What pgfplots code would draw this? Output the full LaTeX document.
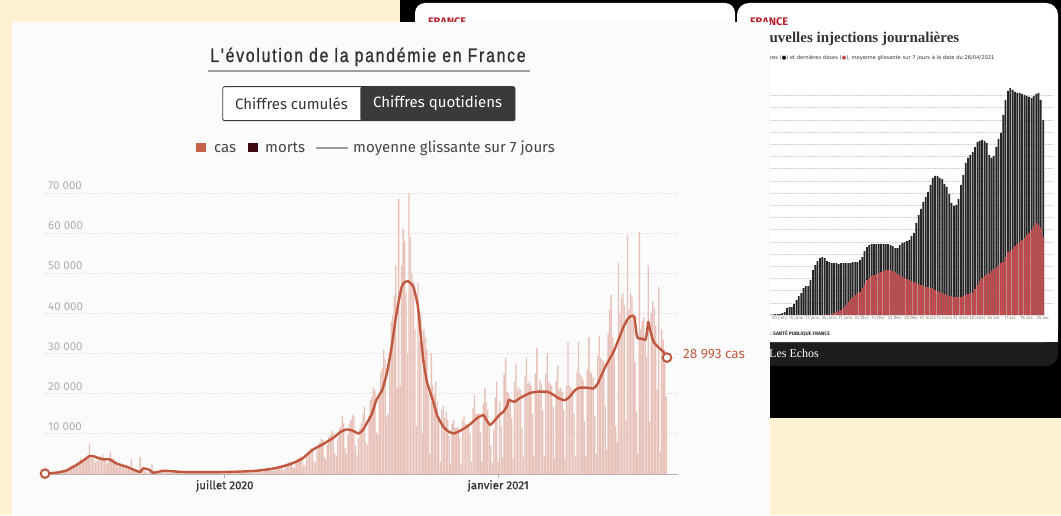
\documentclass[border=0pt]{standalone}
\usepackage{pgfplots}
\pgfplotsset{compat=1.18}
\usepackage{pgfplotstable}
\usepackage{fontspec}
\setmainfont{Fira Sans}
\newfontfamily\titlefont[FakeStretch=0.8,LetterSpace=9.5,FakeBold=1.2]{Liberation Sans}
\newfontfamily\medfont[FakeBold=0.8]{Fira Sans}
\newfontfamily\echoserif{Liberation Serif}
\newfontfamily\dejavu{DejaVu Sans}
\definecolor{cream}{HTML}{FFF2D2}
\definecolor{panel}{HTML}{FBFBFB}
\definecolor{barc}{HTML}{E8C2B9}
\definecolor{linec}{HTML}{C0583F}
\definecolor{gridc}{HTML}{D9D9D9}
\definecolor{gridc2}{HTML}{CFCFCF}
\definecolor{tickgrey}{HTML}{ADADAD}
\definecolor{axisgrey}{HTML}{B0B0B0}
\definecolor{darktext}{HTML}{333333}
\definecolor{legtext}{HTML}{444444}
\definecolor{footer}{HTML}{1D1D1D}
\definecolor{ered}{HTML}{B8222A}
\definecolor{vred}{HTML}{C4474A}
\definecolor{casc}{HTML}{C8614A}
\definecolor{mortc}{HTML}{3D0A14}
\definecolor{togdark}{HTML}{3A3A3A}

% daily cases, one row per week (Mon..Sun), first Monday = 2 March 2020 (day -121)
\pgfplotstableread{
a b c d e f g
100 130 180 210 280 380 450
400 550 700 850 950 1100 1000
1000 1300 1500 1800 2100 2000 2200
2600 2900 3300 3800 3400 3000 3500
4000 4700 7500 4500 4300 3600 2800
3200 4000 4500 4200 4800 3800 3100
2500 3800 5500 3600 3900 2800 2400
1800 2400 2700 2300 2500 2000 1700
1200 1500 3700 1600 1300 1100 900
600 4200 900 800 700 500 300
500 900 2500 900 700 500 300
400 800 900 800 700 500 300
300 700 800 700 600 500 300
300 600 700 600 550 400 250
250 550 600 550 500 350 250
250 550 600 550 500 350 250
250 500 650 550 500 400 250
300 600 700 600 550 450 300
300 650 750 700 600 500 350
350 800 900 800 700 600 400
450 950 1100 1000 900 700 500
600 1300 1500 1400 1300 900 700
720 1440 1840 1920 2160 2080 1040
1000 2070 2650 2760 3100 2990 1500
1500 2970 3800 3960 4450 4290 2150
2160 4320 5520 5760 6480 6240 3120
2900 5850 7500 7800 8800 8450 4200
3600 7200 9200 9600 10800 10400 5200
4400 8800 11300 11800 14500 12700 6400
5000 9900 12600 13500 14800 14300 7200
4700 9000 11500 12600 15000 16700 8000
7200 14400 18400 19200 21600 20800 10400
9900 19800 25300 26400 31000 28600 14300
14900 29700 38000 39600 44500 52000 21500
68500 22000 52000 61000 58000 45000 30000
70000 59000 50000 48000 36000 12000 47600
33000 40000 10000 36000 34000 31000 20000
5000 30100 22000 20000 23000 18000 14000
3000 16000 17000 14000 15500 13500 9500
2500 12500 13500 11500 11500 11500 9000
2500 13500 14500 12500 12500 12300 10000
3000 16500 19700 15000 15000 15000 10500
3000 17500 21400 18000 16000 12000 7000
2700 11000 19000 23000 3000 18000 12000
4000 25000 28900 20500 20000 19000 14000
4000 23000 27500 21000 21500 21000 11500
4200 24500 29000 22500 23000 22000 15000
4300 25000 31500 21000 23500 22500 15700
4300 25000 30000 23000 22500 22000 16700
4000 23000 27000 21000 21500 20500 16000
4000 22000 32900 22000 21500 21000 15000
4500 25500 33000 25000 24500 23500 13100
4500 26000 34100 25500 25000 24000 14500
5000 29500 34500 29000 28500 28000 17000
6000 35000 41000 44600 34000 30000 12000
8000 52600 40000 44000 45000 42000 13400
59500 41000 45000 44000 40000 28000 15500
5000 60300 36000 38000 39000 34000 29200
52000 13000 40000 43000 41500 37000 21000
46600 5500 36000 33500 31000 19300 nan
}\cases

% background chart (vaccinations): day j from 3 Jan 2021, heights in pt
\pgfplotstableread{
j b r
-4 0.5 0
-3 0.5 0
-2 1 0
-1 1 0
0 1 0
1 2 0
2 3 0
3 7 0
4 8 0
5 8 0
6 11 0
7 15 0
8 19 0
9 22 0
10 27 0
11 29 0
12 29 0
13 35 0
14 45 0
15 50 0
16 54 0
17 57 0
18 58 0
19 57 0.5
20 54 0.5
21 53 0.5
22 52 1
23 52 2
24 52 3
25 51 4
26 52 5
27 52 7
28 52 10
29 52 13
30 52 16
31 53 18
32 53 20
33 53 22
34 55 23
35 58 27
36 64 31
37 68 35
38 70 37
39 71 39
40 71 40
41 71 41
42 71 42
43 71 43
44 71 44
45 71 45
46 71 45
47 70 45
48 69 44
49 67 43
50 67 41
51 70 40
52 72 38
53 73 37
54 74 36
55 75 35
56 79 34
57 82 33
58 92 32
59 100 31
60 106 30
61 113 29
62 118 28
63 123 28
64 130 27
65 137 27
66 139 25
67 139 24
68 137 23
69 136 22
70 131 21
71 128 20
72 121 19
73 112 19
74 109 18
75 110 18
76 116 18
77 130 18
78 140 19
79 152 20
80 157 21
81 160 22
82 163 22
83 168 26
84 173 30
85 174 34
86 175 37
87 174 39
88 172 41
89 160 42
90 157 44
91 159 46
92 168 48
93 176 50
94 182 52
95 200 53
96 215 58
97 224 63
98 227 64
99 225 66
100 223 69
101 222 71
102 222 73
103 221 75
104 220 77
105 219 80
106 218 82
107 217 85
108 219 89
109 221 92
110 222 90
111 215 87
112 195 78
}\vacc

\pgfplotsset{cbar/.style={ybar, bar width=0.9, bar shift=0pt, fill=barc, draw=none}}

\begin{document}
\begin{tikzpicture}
\useasboundingbox (0,0) rectangle (1061pt,515pt);
\begin{scope}[x=1pt,y=1pt]
\fill[cream] (0,0) rectangle (1061,515);
\fill[black] (400,97) rectangle (1061,515);
\fill[white, rounded corners=10pt] (415,215) rectangle (735,512);
\fill[footer, rounded corners=12pt] (737,149) rectangle (1058,512);
\fill[white, rounded corners=12pt] (737,173) rectangle (1058,512);
\fill[white] (737,173) rectangle (1058,190);
\node[anchor=base west, inner sep=0pt, text=ered, font=\bfseries\fontsize{11}{11}\selectfont] at (428,489) {FRANCE};
\node[anchor=base west, inner sep=0pt, text=ered, font=\bfseries\fontsize{11}{11}\selectfont] at (750,489) {FRANCE};
\node[anchor=base west, inner sep=0pt, text=darktext, font=\echoserif\bfseries\fontsize{15}{15}\selectfont] at (751,472) {Nouvelles injections journalières};
\node[anchor=base west, inner sep=0pt, text=darktext, font=\dejavu\fontsize{5.2}{5.2}\selectfont] at (752,455) {Premières ({\color{black}●}) et dernières doses ({\color{vred}●}), moyenne glissante sur 7 jours à la date du 26/04/2021};
\node[anchor=base east, inner sep=0pt, text=darktext, font=\bfseries\fontsize{5}{5}\selectfont] at (772,180) {SOURCE :};
\node[anchor=base west, inner sep=0pt, text=darktext, font=\bfseries\fontsize{5}{5}\selectfont] at (773,180) {SANTÉ PUBLIQUE FRANCE};
\node[anchor=base west, inner sep=0pt, text=white, font=\echoserif\fontsize{12}{12}\selectfont] at (769,158) {Les Echos};
\end{scope}

\begin{axis}[at={(770pt,200pt)}, anchor=south west, scale only axis,
  width=283pt, height=230pt, xmin=770, xmax=1053, ymin=0, ymax=230,
  axis line style={draw=none}, tick style={draw=none},
  ytick={12.2,24.4,...,219.6}, yticklabels={},
  ymajorgrids, grid style={gridc2, dash pattern=on 0.6pt off 0.9pt, line width=0.5pt},
  xtick={780,796.45,812.9,829.35,845.8,862.25,878.7,895.15,911.6,928.05,944.5,960.95,977.4,993.85,1010.3,1026.75,1043.2},
  xticklabels={03 janv.,10 janv.,17 janv.,24 janv.,31 janv.,07 févr.,14 févr.,21 févr.,28 févr.,07 mars,14 mars,21 mars,28 mars,04 avr.,11 avr.,18 avr.,25 avr.},
  xticklabel style={font=\fontsize{4.5}{4.5}\selectfont, text=gray, inner sep=1pt},
  clip=false]
\addplot[ybar, bar width=1.75, bar shift=0pt, fill=black!85, draw=none] table[x expr=780+2.35*\thisrow{j}, y=b]{\vacc};
\addplot[ybar, bar width=1.75, bar shift=0pt, fill=vred, draw=none] table[x expr=780+2.35*\thisrow{j}, y=r]{\vacc};
\end{axis}

\begin{scope}[x=1pt,y=1pt]
\fill[panel] (12,0) rectangle (770,493);
\node[anchor=base, inner sep=0pt, text=darktext, font=\titlefont\fontsize{19.5}{19.5}\selectfont] at (368,453) {L'évolution de la pandémie en France};
\draw[color=gray!75, line width=1.8pt] (208,444) -- (530,444);
\draw[fill=white, draw=togdark, line width=0.9pt, rounded corners=2pt] (222.7,394.3) rectangle (515,428.3);
\fill[togdark, rounded corners=2pt] (360.3,394.3) rectangle (515,428.3);
\node[inner sep=0pt, text=darktext, font=\fontsize{15}{15}\selectfont] at (291.5,411.3) {Chiffres cumulés};
\node[inner sep=0pt, text=white, font=\fontsize{15}{15}\selectfont] at (437.6,411.3) {Chiffres quotidiens};
\fill[casc] (196,362.5) rectangle (205.5,372);
\node[anchor=base west, inner sep=0pt, text=legtext, font=\fontsize{15}{15}\selectfont] at (214,362.3) {cas};
\fill[mortc] (248,362.5) rectangle (257.5,372);
\node[anchor=base west, inner sep=0pt, text=legtext, font=\fontsize{15}{15}\selectfont] at (265,362.3) {morts};
\draw[color=gray!80, line width=1.2pt] (316,367) -- (348,367);
\node[anchor=base west, inner sep=0pt, text=legtext, font=\fontsize{15}{15}\selectfont] at (353,362.3) {moyenne glissante sur 7 jours};
\end{scope}

\begin{axis}[at={(45pt,41pt)}, anchor=south west, scale only axis,
  width=633pt, height=281pt, xmin=-121, xmax=305, ymin=0, ymax=70000, clip=false,
  scaled y ticks=false,
  axis x line*=bottom, axis y line*=left,
  y axis line style={draw=none}, x axis line style={draw=axisgrey, line width=0.9pt},
  xtick={0,184}, xticklabels={juillet 2020, janvier 2021},
  x tick style={draw=axisgrey, line width=0.8pt}, y tick style={draw=none},
  tick align=outside, major tick length=4pt,
  xticklabel style={font=\medfont\fontsize{11.5}{12}\selectfont, text=darktext, inner sep=2pt},
  ytick={10000,20000,30000,40000,50000,60000,70000},
  yticklabels={10 000,20 000,30 000,40 000,50 000,60 000,70 000},
  yticklabel style={anchor=south west, font=\fontsize{11.5}{12}\selectfont, text=tickgrey, inner sep=0pt, xshift=7pt, yshift=3pt},
  ymajorgrids, grid style={gridc, line width=0.8pt, dash pattern=on 0.8pt off 1.6pt},
]
\addplot[cbar] table[x expr=7*\coordindex-121, y=a]{\cases};
\addplot[cbar] table[x expr=7*\coordindex-120, y=b]{\cases};
\addplot[cbar] table[x expr=7*\coordindex-119, y=c]{\cases};
\addplot[cbar] table[x expr=7*\coordindex-118, y=d]{\cases};
\addplot[cbar] table[x expr=7*\coordindex-117, y=e]{\cases};
\addplot[cbar] table[x expr=7*\coordindex-116, y=f]{\cases};
\addplot[cbar] table[x expr=7*\coordindex-115, y=g]{\cases};
\addplot[linec, line width=2.4pt, smooth, tension=0.3, line join=round] coordinates {
(-121,100) (-116,250) (-112,400) (-107,800) (-102,1800) (-98,2650) (-94,3700) (-91,4500) (-88,4400) (-86.5,4150) (-82,3650) (-77.5,3650) (-73,2650) (-69,2100) (-66,1820) (-62,1170) (-57,500) (-55,1400) (-52,1200) (-50.5,1000) (-48.5,330) (-45,500) (-41.7,820) (-36,700) (-28,500) (-15,450) (0,500) (10,600) (21,800) (30,1200) (37,1700) (45,2600) (52,3800) (59,6000) (66,7400) (73,9000) (78,10500) (82,11100) (86,10800) (90,10100) (93,11000) (95.5,12600) (99,15000) (102,18400) (106,21000) (109,25000) (112,31000) (114.5,37500) (117,43000) (119,46600) (121,47800) (123.5,48000) (125,47500) (127,46600) (130,41700) (132,34000) (133.6,28400) (136,23000) (140,18400) (143,14500) (147,11800) (150,10700) (154,10100) (158,10700) (163,11800) (167,13000) (170,14000) (174,14700) (176,13500) (178.6,12200) (182,13500) (185,14800) (187.5,15500) (190,17000) (191,18400) (193,18200) (195,18000) (199,19000) (205.5,20200) (211,20500) (216.8,20500) (220,20000) (225,18800) (229,18400) (232,19200) (236,21000) (239,21500) (244,21500) (248,21300) (251,22500) (255,25900) (258,28000) (261.7,30500) (265,33500) (268.4,36700) (271,38500) (273,39300) (275.6,39200) (277,35000) (278,33800) (281,33700) (283,33400) (284,35000) (285,37900) (286.5,35500) (288.6,32900) (292,31500) (295,30500) (297.6,29000)
};
\addplot[only marks, mark=*, mark size=4.3pt, mark options={fill=white, draw=linec, line width=2pt}] coordinates {(-121,100) (297.6,29000)};
\end{axis}

\begin{scope}[x=1pt,y=1pt]
\node[anchor=base west, inner sep=0pt, text=linec, font=\fontsize{13.5}{13.5}\selectfont] at (683,157) {28 993 cas};
\end{scope}
\end{tikzpicture}
\end{document}
